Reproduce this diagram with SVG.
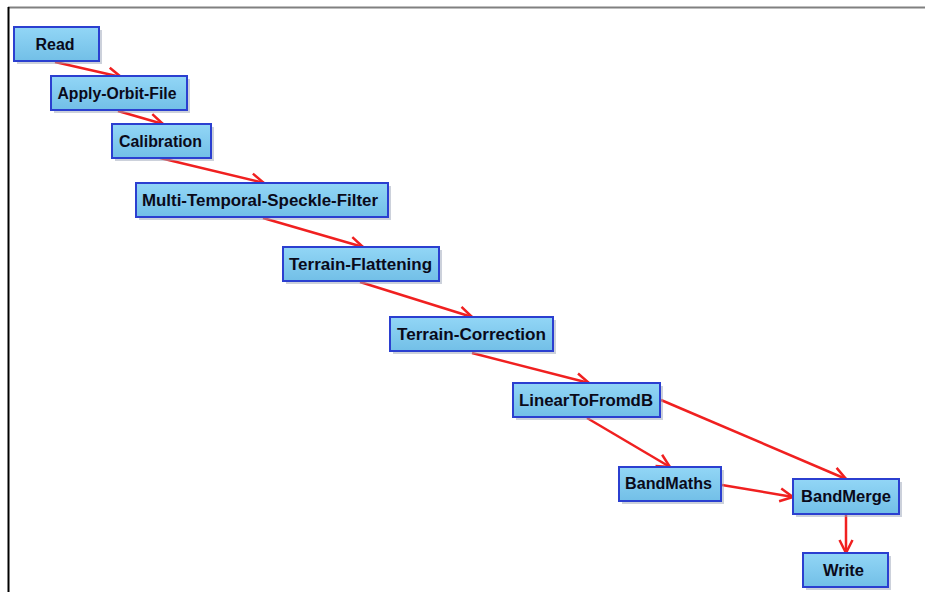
<svg xmlns="http://www.w3.org/2000/svg" width="925" height="592" viewBox="0 0 925 592">
<style>
.box{fill:url(#g);stroke:#2b3fd0;stroke-width:2}
.sh{fill:#9aa4b8;opacity:0.5}
.t{font-family:"Liberation Sans",Arial,sans-serif;font-weight:bold;font-size:16px;fill:#0a0a1a;text-anchor:middle;dominant-baseline:central;lengthAdjust:spacingAndGlyphs}
.c{stroke:#f02020;stroke-width:2.5;fill:none;marker-end:url(#ah)}
</style>
<defs>
<linearGradient id="g" x1="0" y1="0" x2="0" y2="1">
<stop offset="0" stop-color="#92d6f6"/>
<stop offset="1" stop-color="#72bfe7"/>
</linearGradient>
<marker id="ah" markerWidth="18" markerHeight="16" refX="14" refY="8" orient="auto" markerUnits="userSpaceOnUse">
<path d="M1,1.5 L14,8 L1,14.5" fill="none" stroke="#f02020" stroke-width="2.5"/>
</marker>
</defs>
<rect width="925" height="592" fill="#ffffff"/>
<line x1="8" y1="7.5" x2="925" y2="7.5" stroke="#808080" stroke-width="2"/>
<line x1="8.5" y1="7" x2="8.5" y2="592" stroke="#000000" stroke-width="2"/>
<g id="connectors">
<line class="c" x1="55" y1="62" x2="121" y2="77"/>
<line class="c" x1="118" y1="111" x2="163" y2="124"/>
<line class="c" x1="160" y1="158" x2="264" y2="183"/>
<line class="c" x1="263" y1="218" x2="363" y2="247"/>
<line class="c" x1="360" y1="282" x2="472" y2="317"/>
<line class="c" x1="472" y1="353" x2="589" y2="383"/>
<line class="c" x1="587" y1="418" x2="670" y2="467"/>
<line class="c" x1="661" y1="400" x2="846" y2="479"/>
<line class="c" x1="722" y1="485" x2="793" y2="497"/>
<line class="c" x1="846" y1="515" x2="846" y2="553"/>
</g>
<g id="read"><rect class="sh" x="17" y="30" width="85" height="34"/><rect class="box" x="14" y="27" width="85" height="34"/><text class="t" x="55" y="44" textLength="39" lengthAdjust="spacingAndGlyphs">Read</text></g>
<g id="apply-orbit-file"><rect class="sh" x="54" y="79" width="136" height="34"/><rect class="box" x="51" y="76" width="136" height="34"/><text class="t" x="117" y="93" textLength="119" lengthAdjust="spacingAndGlyphs">Apply-Orbit-File</text></g>
<g id="calibration"><rect class="sh" x="115" y="127" width="99" height="34"/><rect class="box" x="112" y="124" width="99" height="34"/><text class="t" x="160.5" y="141" textLength="83" lengthAdjust="spacingAndGlyphs">Calibration</text></g>
<g id="multi-temporal-speckle-filter"><rect class="sh" x="139" y="186" width="252" height="34"/><rect class="box" x="136" y="183" width="252" height="34"/><text class="t" x="260" y="200" textLength="236" lengthAdjust="spacingAndGlyphs">Multi-Temporal-Speckle-Filter</text></g>
<g id="terrain-flattening"><rect class="sh" x="286" y="250" width="156" height="34"/><rect class="box" x="283" y="247" width="156" height="34"/><text class="t" x="360.5" y="264" textLength="143" lengthAdjust="spacingAndGlyphs">Terrain-Flattening</text></g>
<g id="terrain-correction"><rect class="sh" x="393" y="320" width="163" height="34"/><rect class="box" x="390" y="317" width="163" height="34"/><text class="t" x="471.5" y="334" textLength="149" lengthAdjust="spacingAndGlyphs">Terrain-Correction</text></g>
<g id="lineartofromdb"><rect class="sh" x="516" y="386" width="147" height="34"/><rect class="box" x="513" y="383" width="147" height="34"/><text class="t" x="586" y="400" textLength="134" lengthAdjust="spacingAndGlyphs">LinearToFromdB</text></g>
<g id="bandmaths"><rect class="sh" x="622" y="470" width="102" height="34"/><rect class="box" x="619" y="467" width="102" height="34"/><text class="t" x="668.5" y="483" textLength="87" lengthAdjust="spacingAndGlyphs">BandMaths</text></g>
<g id="bandmerge"><rect class="sh" x="796" y="482" width="106" height="35"/><rect class="box" x="793" y="479" width="106" height="35"/><text class="t" x="846" y="496" textLength="90" lengthAdjust="spacingAndGlyphs">BandMerge</text></g>
<g id="write"><rect class="sh" x="806" y="556" width="85" height="34"/><rect class="box" x="803" y="553" width="85" height="34"/><text class="t" x="843.5" y="570" textLength="41" lengthAdjust="spacingAndGlyphs">Write</text></g>
</svg>
